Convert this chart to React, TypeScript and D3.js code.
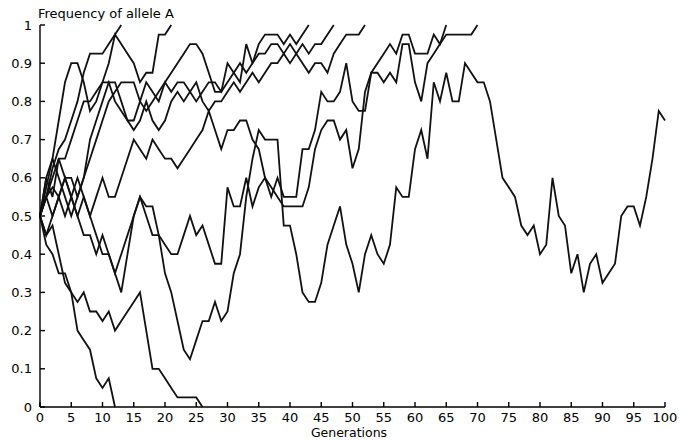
import React from 'react';
import * as d3 from 'd3';

// allele frequency per generation, one array per simulated population
const lost12 = [0.5, 0.425, 0.4, 0.35, 0.35, 0.3, 0.2, 0.175, 0.15, 0.075, 0.05, 0.075, 0];
const lost26 = [0.5, 0.45, 0.475, 0.4, 0.325, 0.3, 0.275, 0.3, 0.25, 0.25, 0.225, 0.25, 0.2, 0.225, 0.25, 0.275, 0.3, 0.2, 0.1, 0.1, 0.075, 0.05, 0.025, 0.025, 0.025, 0.025, 0];
const fixed13 = [0.5, 0.55, 0.625, 0.675, 0.7, 0.75, 0.8, 0.875, 0.925, 0.925, 0.925, 0.95, 0.975, 1];
const fixed21 = [0.5, 0.575, 0.65, 0.75, 0.85, 0.9, 0.9, 0.85, 0.775, 0.8, 0.85, 0.9, 0.975, 0.95, 0.925, 0.9, 0.85, 0.875, 0.875, 0.975, 0.975, 1];
const fixed43 = [0.5, 0.55, 0.6, 0.65, 0.65, 0.7, 0.75, 0.8, 0.8, 0.825, 0.85, 0.85, 0.85, 0.8, 0.75, 0.75, 0.8, 0.85, 0.825, 0.8, 0.85, 0.825, 0.85, 0.85, 0.825, 0.8, 0.825, 0.85, 0.85, 0.825, 0.85, 0.875, 0.9, 0.875, 0.9, 0.95, 0.975, 0.975, 0.975, 0.95, 0.975, 0.95, 0.975, 1];
const fixed47 = [0.5, 0.6, 0.55, 0.65, 0.6, 0.6, 0.55, 0.6, 0.7, 0.75, 0.8, 0.85, 0.8, 0.775, 0.75, 0.725, 0.75, 0.8, 0.75, 0.725, 0.75, 0.8, 0.825, 0.8, 0.825, 0.85, 0.8, 0.775, 0.8, 0.8, 0.825, 0.85, 0.825, 0.85, 0.875, 0.85, 0.875, 0.9, 0.9, 0.925, 0.9, 0.925, 0.95, 0.925, 0.95, 0.95, 0.975, 1];
const fixed52 = [0.5, 0.6, 0.65, 0.6, 0.55, 0.5, 0.55, 0.6, 0.65, 0.7, 0.75, 0.8, 0.825, 0.85, 0.85, 0.85, 0.8, 0.775, 0.8, 0.825, 0.85, 0.875, 0.9, 0.925, 0.95, 0.95, 0.925, 0.875, 0.825, 0.825, 0.9, 0.875, 0.85, 0.95, 0.9, 0.925, 0.925, 0.95, 0.95, 0.925, 0.95, 0.925, 0.9, 0.875, 0.9, 0.9, 0.875, 0.925, 0.95, 0.975, 0.975, 0.975, 1];
const fixed65 = [0.5, 0.45, 0.5, 0.55, 0.5, 0.55, 0.6, 0.55, 0.5, 0.55, 0.6, 0.55, 0.55, 0.6, 0.65, 0.7, 0.675, 0.65, 0.7, 0.675, 0.65, 0.65, 0.625, 0.65, 0.675, 0.7, 0.725, 0.775, 0.725, 0.675, 0.725, 0.725, 0.75, 0.75, 0.7, 0.675, 0.6, 0.575, 0.55, 0.525, 0.525, 0.525, 0.525, 0.575, 0.675, 0.725, 0.75, 0.75, 0.7, 0.725, 0.625, 0.675, 0.825, 0.875, 0.9, 0.925, 0.95, 0.925, 0.975, 0.975, 0.925, 0.925, 0.925, 0.975, 0.95, 1];
const fixed70 = [0.5, 0.55, 0.5, 0.55, 0.6, 0.55, 0.5, 0.55, 0.5, 0.45, 0.4, 0.4, 0.35, 0.4, 0.45, 0.5, 0.55, 0.5, 0.45, 0.45, 0.425, 0.4, 0.4, 0.45, 0.5, 0.45, 0.475, 0.425, 0.375, 0.375, 0.575, 0.525, 0.525, 0.6, 0.525, 0.575, 0.6, 0.55, 0.6, 0.55, 0.55, 0.55, 0.675, 0.675, 0.725, 0.825, 0.8, 0.8, 0.825, 0.9, 0.8, 0.775, 0.775, 0.875, 0.875, 0.85, 0.875, 0.85, 0.95, 0.95, 0.85, 0.8, 0.9, 0.925, 0.95, 0.975, 0.975, 0.975, 0.975, 0.975, 1];
const unfixed = [0.5, 0.55, 0.575, 0.55, 0.6, 0.55, 0.5, 0.45, 0.45, 0.4, 0.45, 0.4, 0.35, 0.3, 0.4, 0.5, 0.55, 0.525, 0.525, 0.45, 0.35,
  0.3, 0.225, 0.15, 0.125, 0.175, 0.225, 0.225, 0.275, 0.225, 0.25, 0.35, 0.4, 0.55, 0.65, 0.725,
  0.7, 0.7, 0.7, 0.475, 0.475, 0.4, 0.3, 0.275, 0.275,
  0.325, 0.425, 0.475, 0.525, 0.425, 0.375, 0.3, 0.4, 0.45, 0.4, 0.375, 0.425,
  0.575, 0.55, 0.55, 0.675, 0.725, 0.65, 0.85, 0.8, 0.875, 0.8, 0.8, 0.9, 0.875, 0.85, 0.85, 0.8,
  0.7, 0.6, 0.575, 0.55, 0.475, 0.45, 0.475, 0.4, 0.425, 0.6, 0.5, 0.475, 0.35, 0.4, 0.3, 0.375, 0.4, 0.325, 0.35, 0.375, 0.5, 0.525, 0.525, 0.475, 0.55, 0.65, 0.775, 0.75];

const runs = [lost12, lost26, fixed13, fixed21, fixed43, fixed47, fixed52, fixed65, fixed70, unfixed];

const xTicks = d3.range(0, 101, 5);
const yTicks = [0, 0.1, 0.2, 0.3, 0.4, 0.5, 0.6, 0.7, 0.8, 0.9, 1];

const width = 679;
const height = 441;
const font = 'DejaVu Sans, Verdana, sans-serif';

export default function App() {
  const x = d3.scaleLinear().domain([0, 100]).range([40, 665]);
  const y = d3.scaleLinear().domain([0, 1]).range([407, 25]);

  const line = d3.line<number>()
    .x((d, i) => x(i))
    .y(d => y(d));

  return (
    <svg width={width} height={height} style={{ position: 'absolute', left: 0, top: 0, background: '#fff' }}>
      {/* 模拟曲线 */}
      {runs.map((r, i) => (
        <path key={i} d={line(r) || ''} fill="none" stroke="#111" strokeWidth={1.8} />
      ))}

      {/* 坐标轴 */}
      <line x1={x(0)} x2={x(100)} y1={y(0)} y2={y(0)} stroke="#000" strokeWidth={1.4} />
      <line x1={x(0)} x2={x(0)} y1={y(0)} y2={y(1)} stroke="#000" strokeWidth={1.4} />
      {yTicks.map(t => (
        <g key={t}>
          <line x1={x(0)} x2={x(0) + 5} y1={y(t)} y2={y(t)} stroke="#000" strokeWidth={1.4} />
          <text x={32} y={y(t)} dy="0.35em" textAnchor="end" fontFamily={font} fontSize={13}>{t}</text>
        </g>
      ))}
      {xTicks.map(t => (
        <g key={t}>
          <line x1={x(t)} x2={x(t)} y1={y(0)} y2={y(0) - 5} stroke="#000" strokeWidth={1.4} />
          <text x={x(t)} y={422} textAnchor="middle" fontFamily={font} fontSize={13}>{t}</text>
        </g>
      ))}
      <text x={38} y={18} fontFamily={font} fontSize={13}>Frequency of allele A</text>
      <text x={349} y={437} textAnchor="middle" fontFamily={font} fontSize={12.5}>Generations</text>
    </svg>
  );
}
